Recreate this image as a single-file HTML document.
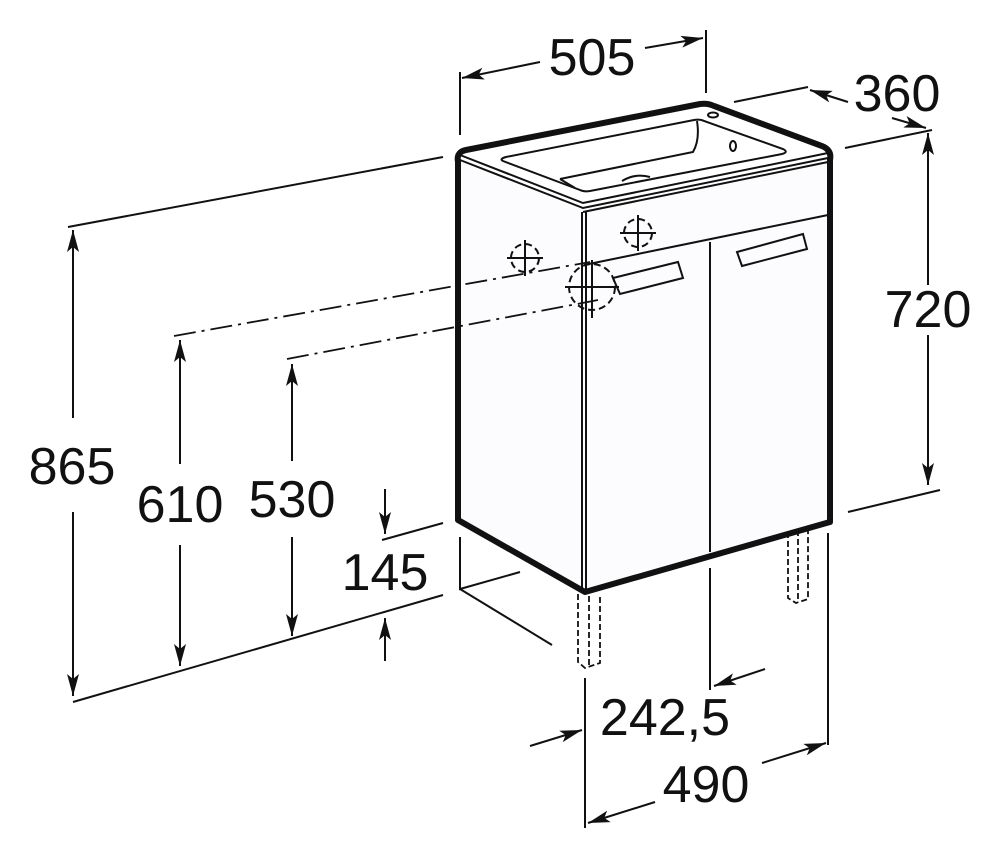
<!DOCTYPE html>
<html><head><meta charset="utf-8"><style>
html,body{margin:0;padding:0;background:#fff;}
svg{display:block}
text{font-family:"Liberation Sans",Arial,sans-serif;font-size:52px;fill:#111;text-anchor:middle;dominant-baseline:central}
</style></head><body>
<svg width="1000" height="858" viewBox="0 0 1000 858" xmlns="http://www.w3.org/2000/svg">
<defs>
<marker id="a" markerWidth="24" markerHeight="12" refX="22" refY="6" orient="auto" markerUnits="userSpaceOnUse">
<path d="M0,0 L22,6 L0,12 L5,6 z" fill="#111"/>
</marker>
</defs>
<g stroke="#111" fill="none" stroke-width="2">
<path d="M458,158 L584,210 L584,592 L458,520 Z" fill="#fcfcff" stroke="none"/>
<path d="M584,210 L830,156 L830,522 L584,592 Z" fill="#fcfcff" stroke="none"/>
<path d="M458,162 Q456,152 466,150 L700,104 Q708,103 714,106 L822,146 Q832,150 830,160" stroke-width="6"/>
<path d="M458,160 L458,520 L585,592 L830,522 L830,158" stroke-width="6" stroke-linejoin="round"/>
<path d="M460,155 L583,203 L828,153"/>
<path d="M460,160 L583,208 L828,158"/>
<path d="M583,212 L828,162"/>
<path d="M506,157 L694,120 Q700,119 704,121 L783,149 Q789,152 782,154 L590,191 Q584,192 580,190 L503,161 Q499,159 506,157 Z"/>
<path d="M560,179 L693,152 Q700,140 697,121"/>
<path d="M560,179 L575,188"/>
<path d="M622,181 Q635,173 650,177"/>
<ellipse cx="733" cy="146" rx="3" ry="5"/>
<ellipse cx="713" cy="115" rx="5" ry="2.5"/>
<path d="M582,212 L582,590"/>
<path d="M586,212 L586,590"/>
<path d="M584,265 L828,215"/>
<path d="M710,242 L710,552"/>
<path d="M613,278 L678,262 L683,278 L620,294 Z"/>
<path d="M737,252 L803,234 L807,249 L742,266 Z"/>
<g stroke-dasharray="6,3" stroke-width="1.8">
<path d="M578,594 L578,662 L585,668 L600,663 L600,594"/>
<path d="M589,596 L589,666"/>
<path d="M788,532 L788,598 L796,603 L808,599 L808,529"/>
<path d="M798,530 L798,601"/>
</g>
<g stroke-dasharray="7,4" stroke-width="2">
<circle cx="638" cy="233" r="14"/>
<circle cx="525" cy="258" r="14"/>
<circle cx="592" cy="287" r="23"/>
</g>
<path d="M620,233 L656,233 M638,215 L638,251" stroke-width="2"/>
<path d="M507,258 L543,258 M525,240 L525,276" stroke-width="2"/>
<path d="M565,287 L619,287 M592,260 L592,318" stroke-width="2"/>
<g stroke-dasharray="22,6,3,6" stroke-width="1.8">
<path d="M174,336 L590,262"/>
<path d="M287,359 L598,300"/>
</g>
<path d="M68,227 L443,157"/>
<path d="M73,702 L443,595"/>
<path d="M382,540 L443,523"/>
<path d="M460,537 L460,589 L520,572 M460,589 L552,645"/>
<path d="M460,72 L460,135"/>
<path d="M706,30 L706,93"/>
<path d="M734,102 L808,87"/>
<path d="M845,148 L932,130"/>
<path d="M848,512 L940,490"/>
<path d="M710,568 L710,690"/>
<path d="M828,533 L828,745"/>
<path d="M585,678 L585,828"/>
<path d="M540,62 L462,78" marker-end="url(#a)"/>
<path d="M645,48 L703,38" marker-end="url(#a)"/>
<path d="M848,102 L810,90" marker-end="url(#a)"/>
<path d="M892,118 L926,128" marker-end="url(#a)"/>
<path d="M928,285 L928,133" marker-end="url(#a)"/>
<path d="M928,335 L928,485" marker-end="url(#a)"/>
<path d="M73,418 L73,230" marker-end="url(#a)"/>
<path d="M73,512 L73,696" marker-end="url(#a)"/>
<path d="M180,464 L180,340" marker-end="url(#a)"/>
<path d="M180,545 L180,666" marker-end="url(#a)"/>
<path d="M292,461 L292,364" marker-end="url(#a)"/>
<path d="M292,537 L292,636" marker-end="url(#a)"/>
<path d="M385,489 L385,534" marker-end="url(#a)"/>
<path d="M385,661 L385,618" marker-end="url(#a)"/>
<path d="M765,669 L714,686" marker-end="url(#a)"/>
<path d="M530,746 L582,730" marker-end="url(#a)"/>
<path d="M762,763 L826,743" marker-end="url(#a)"/>
<path d="M655,802 L588,823" marker-end="url(#a)"/>
</g>
<text x="592" y="58">505</text>
<text x="897" y="94">360</text>
<text x="928" y="310">720</text>
<text x="72" y="467">865</text>
<text x="180" y="505">610</text>
<text x="292" y="500">530</text>
<text x="385" y="573">145</text>
<text x="665" y="718">242,5</text>
<text x="706" y="785">490</text>
</svg>
</body></html>
